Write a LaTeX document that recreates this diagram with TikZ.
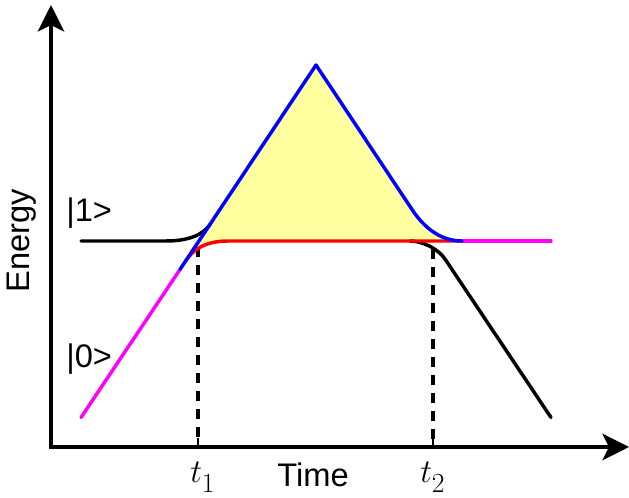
\documentclass[tikz,border=0pt]{standalone}
\usepackage{fontspec}
\setmainfont{Liberation Sans}
\usetikzlibrary{arrows.meta}
\definecolor{fillyellow}{RGB}{255,255,160}
\definecolor{cblue}{RGB}{0,0,255}
\definecolor{cred}{RGB}{255,0,0}
\definecolor{cmag}{RGB}{255,0,255}
\tikzset{
  axis/.style={line width=2.4pt, -{Stealth[length=20pt,width=20pt,inset=5pt]}},
  curve/.style={line width=2.6pt, line cap=round},
  guide/.style={line width=2.4pt, dash pattern=on 7.5pt off 6pt},
  tick/.style={line width=2.2pt},
  lbl/.style={inner sep=0pt, font=\fontsize{24.5}{28}\selectfont},
  mlbl/.style={inner sep=0pt, font=\fontsize{25}{29}\selectfont}
}
\newcommand{\tsub}[1]{$t$\raisebox{-7.5pt}{\fontsize{22}{26}\selectfont$#1$}}
\begin{document}
\begin{tikzpicture}[x=0.75pt,y=-0.75pt]
\useasboundingbox (0,0) rectangle (629,498);
% yellow region
\fill[fillyellow] (186,260.5) -- (316,65) -- (412,209.5)
  .. controls (422,224.5) and (438,241) .. (462,241) -- (433,241) -- (433,247.5)
  .. controls (426,242) and (420,241) .. (413,241) -- (228,241)
  .. controls (203,241) and (192,251.5) .. (186,260.5) -- cycle;
% named points
\coordinate (o) at (51,447);
\coordinate (ytop) at (51,5);
\coordinate (xend) at (629,447);
\coordinate (t1top) at (198,247);
\coordinate (t1bot) at (198,447);
\coordinate (t2top) at (433,249);
\coordinate (t2bot) at (433,447);
\coordinate (t1tick) at (198,438);
\coordinate (t2tick) at (433,438);
% dashed guides
\draw[guide] (t1top) -- (t1bot);
\draw[guide] (t2top) -- (t2bot);
% axes
\draw[axis] (51,449) -- (ytop);
\draw[axis] (49,447) -- (xend);
\draw[tick] (t1tick) -- (t1bot);
\draw[tick] (t2tick) -- (t2bot);
% black curves
\draw[curve,black] (81,241) -- (166,241) .. controls (188,241) and (203,235) .. (210,224.5);
\draw[curve,black] (410,241) .. controls (424,241) and (439,250) .. (445,259) -- (551,417.5);
% magenta
\draw[curve,cmag] (81,417.5) -- (180,269.5);
\draw[curve,cmag] (462,241) -- (551,241);
% red
\draw[curve,cred] (186,260.5) .. controls (192,251.5) and (203,241) .. (228,241) -- (462,241);
% blue
\draw[curve,cblue,line join=round] (180,269.5) -- (316,65) -- (412,209.5)
  .. controls (422,224.5) and (438,241) .. (462,241);
% labels
\node[lbl, rotate=90, anchor=center] (energy) at (22,241) {Energy};
\node[lbl, anchor=base west] (s1) at (66,222) {|1>};
\node[lbl, anchor=base west] (s0) at (66,368) {|0>};
\node[lbl, anchor=base] (time) at (313,487) {Time};
\node[mlbl, anchor=base west] (t1) at (190,483) {\tsub{1}};
\node[mlbl, anchor=base west] (t2) at (420,483) {\tsub{2}};
\end{tikzpicture}
\end{document}
